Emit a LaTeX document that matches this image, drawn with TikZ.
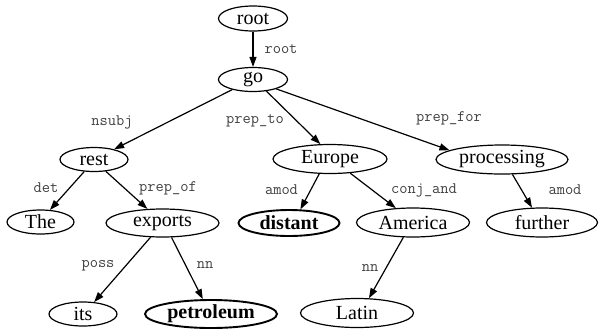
\documentclass[tikz,border=0pt]{standalone}
\usepackage{fontspec}
\setmainfont{Liberation Serif}
\usetikzlibrary{shapes.geometric,arrows.meta}
\tikzset{
  word/.style={ellipse, draw, line width=1.2pt, inner sep=0pt, font=\fontsize{20}{20}\selectfont},
  boldword/.style={word, line width=1.9pt, font=\fontsize{20}{20}\selectfont\bfseries},
  rel/.style={font=\fontsize{16}{16}\selectfont\ttfamily, text=black!75, inner sep=0pt},
  dep/.style={line width=1.2pt, -{Triangle[length=10pt,width=7pt]}}
}
\begin{document}
\begin{tikzpicture}[x=1pt,y=-1pt]
\useasboundingbox (0,0) rectangle (599,330);
% nodes
\node[word, minimum width=69pt, minimum height=25pt] (root) at (253,18.5) {root};
\node[word, minimum width=69pt, minimum height=24pt] (go) at (253,79.5) {go};
\node[word, minimum width=68pt, minimum height=24pt] (rest) at (94,159.5) {rest};
\node[word, minimum width=114pt, minimum height=29pt] (europe) at (330,159) {Europe};
\node[word, minimum width=132pt, minimum height=29pt] (processing) at (502,159.5) {processing};
\node[word, minimum width=67pt, minimum height=24pt] (the) at (40.5,222) {The};
\node[word, minimum width=113pt, minimum height=28pt] (exports) at (162.5,223) {exports};
\node[boldword, minimum width=101pt, minimum height=26pt] (distant) at (289,223) {distant};
\node[word, minimum width=113pt, minimum height=29pt] (america) at (413,222.5) {America};
\node[word, minimum width=111pt, minimum height=29pt] (further) at (542,222.5) {further};
\node[word, minimum width=68pt, minimum height=24pt] (its) at (83,314) {its};
\node[boldword, minimum width=132pt, minimum height=28pt] (petroleum) at (211,314) {petroleum};
\node[word, minimum width=113pt, minimum height=29pt] (latin) at (357,313) {Latin};
% edges
\draw[dep] (root.south) -- (go.north);
\draw[dep] (go.206.6) -- (rest.27.6);
\draw[dep] (go.319) -- (europe.123.7);
\draw[dep] (go.338) -- (processing.170.5);
\draw[dep] (rest.231.8) -- (the.52.5);
\draw[dep] (rest.315) -- (exports.137.9);
\draw[dep] (exports.230.2) -- (its.47.3);
\draw[dep] (exports.302.3) -- (petroleum.119.7);
\draw[dep] (europe.234.5) -- (distant.50.6);
\draw[dep] (europe.325.6) -- (america.140.9);
\draw[dep] (processing.305.5) -- (further.124.7);
\draw[dep] (america.237.3) -- (latin.51.8);
% labels
\node[rel] (l-root) at (281,49) {root};
\node[rel] (l-nsubj) at (112,122) {nsubj};
\node[rel] (l-prepto) at (255,121) {prep\_to};
\node[rel] (l-prepfor) at (449,118) {prep\_for};
\node[rel] (l-det) at (46,188) {det};
\node[rel] (l-prepof) at (168,188) {prep\_of};
\node[rel] (l-amod1) at (281.5,190) {amod};
\node[rel] (l-conjand) at (424,190) {conj\_and};
\node[rel] (l-amod2) at (565,190) {amod};
\node[rel] (l-poss) at (98,266) {poss};
\node[rel] (l-nn1) at (205,265) {nn};
\node[rel] (l-nn2) at (370,268) {nn};
\end{tikzpicture}
\end{document}
